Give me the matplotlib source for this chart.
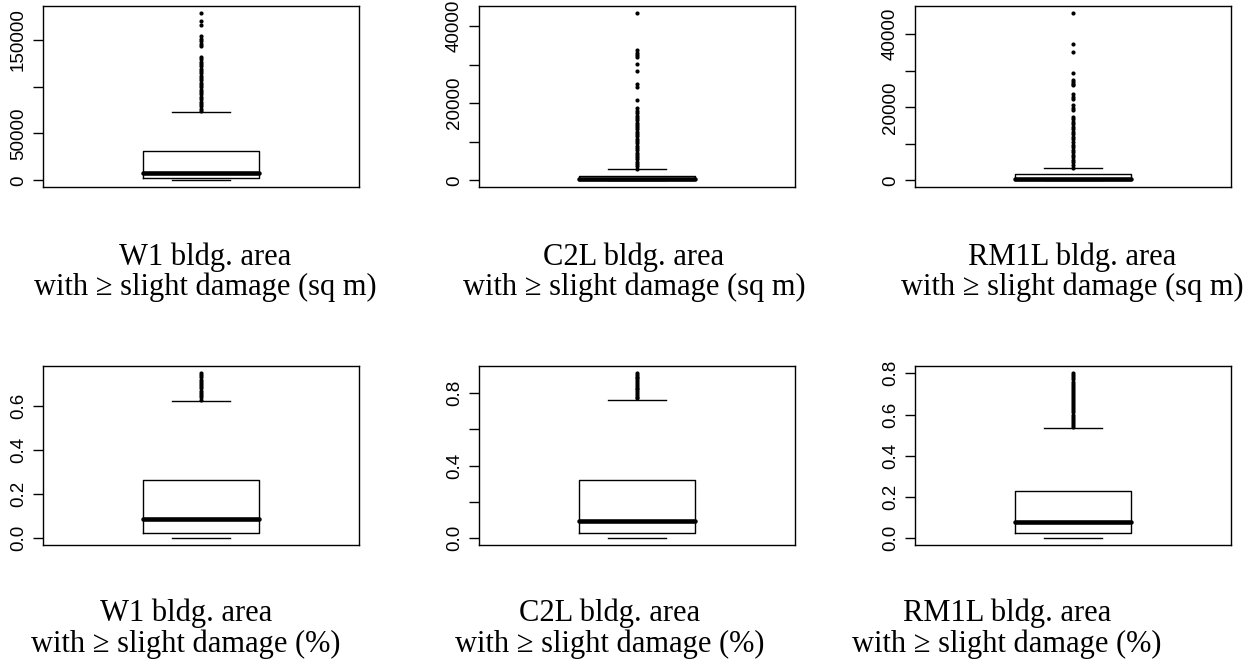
import numpy as np
import matplotlib
matplotlib.use("Agg")
import matplotlib.pyplot as plt

plt.rcParams['font.family'] = ['Liberation Sans', 'DejaVu Sans']

# five-number summaries: (whislo, q1, med, q3, whishi)
w1_area = (0, 2840, 7800, 31200, 72700)
c2l_area = (0, 200, 450, 1200, 2850)
rm1l_area = (0, 150, 400, 1730, 3460)
w1_pct = (0, 0.024, 0.088, 0.267, 0.625)
c2l_pct = (0, 0.027, 0.097, 0.322, 0.764)
rm1l_pct = (0, 0.024, 0.079, 0.228, 0.533)

# outliers above the upper whisker
w1_area_out = [74000, 76500, 79000, 81500, 84000, 86500, 89000, 91500, 94000,
               96500, 99000, 101500, 104000, 106500, 109000, 111500, 114000,
               116500, 119000, 121500, 124000, 126500, 129000, 131500,
               142900, 145700, 148600, 151100, 153500, 165200, 169900, 178700]
c2l_area_out = [3000, 3600, 4200, 4800, 5400, 6000, 6600, 7200, 7800, 8400,
                9000, 9600, 10200, 10800, 11400, 12000, 12600, 13200, 13800,
                14400, 15000, 15600, 16200, 16800, 17400, 18000, 18700,
                20800, 24100, 24900, 28300, 30100, 31900, 32500, 33100, 33800,
                43500]
rm1l_area_out = [3500, 4200, 4900, 5600, 6300, 7000, 7700, 8400, 9100, 9800,
                 10500, 11200, 11900, 12600, 13300, 14000, 14700, 15400, 16100,
                 16800, 17400, 19200, 19900, 20600, 22400, 22900, 23500,
                 26000, 26500, 27000, 27400, 29400, 35200, 37200, 45900]
w1_pct_out = [0.63, 0.64, 0.65, 0.66, 0.67, 0.68, 0.69, 0.70, 0.71, 0.72,
              0.73, 0.74, 0.752]
c2l_pct_out = [0.77, 0.78, 0.79, 0.80, 0.81, 0.82, 0.83, 0.84, 0.85, 0.86,
               0.87, 0.88, 0.89, 0.90, 0.912]
rm1l_pct_out = [0.54, 0.55, 0.56, 0.57, 0.58, 0.59, 0.60, 0.61, 0.62, 0.63,
                0.64, 0.65, 0.66, 0.67, 0.68, 0.69, 0.70, 0.71, 0.72, 0.73,
                0.74, 0.75, 0.76, 0.77, 0.78, 0.79, 0.803]

area_ticks = [[0, 50000, 100000, 150000],
              [0, 10000, 20000, 30000, 40000],
              [0, 10000, 20000, 30000, 40000]]
area_ticklabels = [['0', '50000', '', '150000'],
                   ['0', '', '20000', '', '40000'],
                   ['0', '', '20000', '', '40000']]
pct_ticks = [[0, 0.2, 0.4, 0.6],
             [0, 0.2, 0.4, 0.6, 0.8],
             [0, 0.2, 0.4, 0.6, 0.8]]
pct_ticklabels = [['0.0', '0.2', '0.4', '0.6'],
                  ['0.0', '', '0.4', '', '0.8'],
                  ['0.0', '0.2', '0.4', '0.6', '0.8']]

types = ['W1', 'C2L', 'RM1L']
units = ['sq m', '%']

W, H = 1258, 670
fig = plt.figure(figsize=(W / 100, H / 100), dpi=100)

lefts = [43, 479, 915]
rows = [(6, 187), (366, 545)]
text_x = [[205, 634, 1072], [186, 610, 1007]]
text_base = [(265, 295), (621, 652)]

summaries = [[w1_area, c2l_area, rm1l_area], [w1_pct, c2l_pct, rm1l_pct]]
outliers = [[w1_area_out, c2l_area_out, rm1l_area_out],
            [w1_pct_out, c2l_pct_out, rm1l_pct_out]]
ticks = [area_ticks, pct_ticks]
ticklabels = [area_ticklabels, pct_ticklabels]

for r in range(2):
    top, bot = rows[r]
    for c in range(3):
        ax = fig.add_axes([lefts[c] / W, 1 - bot / H, 316 / W, (bot - top) / H])
        lo, q1, med, q3, hi = summaries[r][c]
        out = outliers[r][c]
        st = dict(whislo=lo, q1=q1, med=med, q3=q3, whishi=hi,
                  fliers=np.array(out))
        ax.bxp([st], positions=[1], widths=0.37, capwidths=0.185,
               showfliers=True,
               boxprops=dict(lw=1.0, color='black'),
               medianprops=dict(lw=3.3, color='black', solid_capstyle='round'),
               whiskerprops=dict(lw=0),
               capprops=dict(lw=1.0, color='black'),
               flierprops=dict(marker='o', markerfacecolor='black',
                               markeredgecolor='black', markersize=3.0,
                               markeredgewidth=0, linestyle='none'))
        vmin = min([lo] + out)
        vmax = max([hi] + out)
        pad = 0.04 * (vmax - vmin)
        ax.set_ylim(vmin - pad, vmax + pad)
        ax.set_xlim(0.5, 1.5)
        ax.set_xticks([])
        ax.set_yticks(ticks[r][c])
        ax.set_yticklabels(ticklabels[r][c])
        ax.tick_params(axis='y', direction='out', length=7, width=1.0,
                       labelsize=13.5, pad=4.5)
        plt.setp(ax.get_yticklabels(), rotation=90, va='center')
        for s in ax.spines.values():
            s.set_linewidth(1.0)

        line1 = f'{types[c]} bldg. area'
        line2 = f'with \u2265 slight damage ({units[r]})'
        for txt, base in zip([line1, line2], text_base[r]):
            fig.text(text_x[r][c] / W, 1 - base / H, txt, ha='center',
                     va='baseline', fontsize=22,
                     family=['Liberation Serif', 'DejaVu Serif'])

fig.savefig('out.png', dpi=100)
